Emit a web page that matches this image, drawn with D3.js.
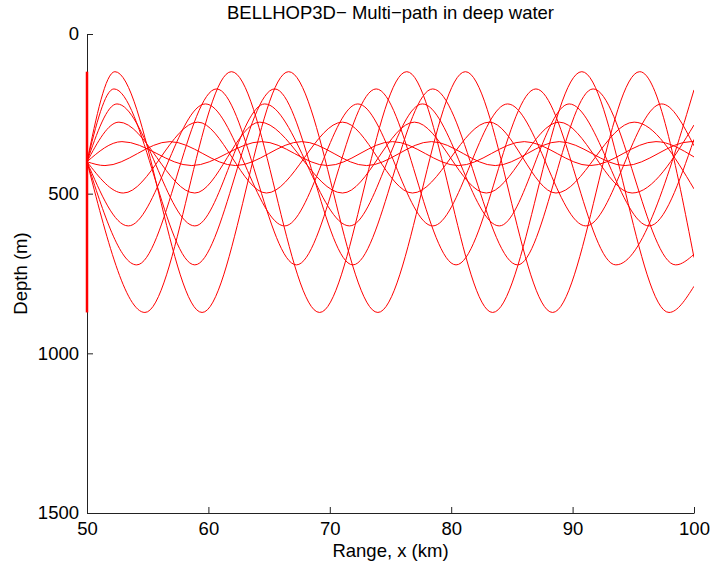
<!DOCTYPE html>
<html>
<head>
<meta charset="utf-8">
<script src="https://cdn.jsdelivr.net/npm/d3@7"></script>
<style>
  body { margin: 0; background: #fff; }
  svg { display: block; font-family: "Liberation Sans", Arial, sans-serif; }
  .axis path, .axis line { stroke: #222; }
  .axis text { font-size: 18.5px; fill: #000; }
</style>
</head>
<body>
<div id="chart"></div>
<script>
// ray paths: [range km, depth m], turning points
const rayUp1 = [[50, 400], [52.30, 118], [59.48, 872], [66.61, 118], [73.96, 872], [81.17, 118], [88.35, 872], [95.53, 118], [100, 700]];
const rayDown1 = [[50, 400], [54.77, 872], [61.90, 118], [69.16, 872], [76.34, 118], [83.41, 872], [90.76, 118], [97.94, 872], [100, 790]];
const rayUp2 = [[50, 400], [52.22, 172], [58.88, 723], [65.46, 172], [71.90, 723], [78.48, 172], [85.47, 723], [91.69, 172], [98.49, 723], [100, 690]];
const rayDown2 = [[50, 400], [54.09, 723], [60.67, 172], [67.25, 723], [73.82, 172], [80.40, 723], [86.98, 172], [93.56, 723], [100, 175]];
const rayUp3 = [[50, 400], [52.47, 219], [58.88, 601], [64.64, 219], [71.63, 601], [77.63, 219], [83.96, 601], [89.72, 219], [96.30, 601], [100, 330]];
const rayDown3 = [[50, 400], [53.40, 601], [59.76, 219], [66.28, 601], [72.31, 219], [78.48, 601], [84.65, 219], [91.09, 601], [97.34, 219], [100, 350]];
const rayUp4 = [[50, 400], [52.63, 276], [58.88, 498], [64.23, 276], [71.05, 498], [76.97, 276], [82.89, 498], [88.90, 276], [94.90, 498], [100, 285]];
const rayDown4 = [[50, 400], [52.99, 498], [59.13, 276], [64.78, 498], [71.05, 276], [76.81, 498], [83.14, 276], [88.63, 498], [95.07, 276], [100, 485]];
const rayUp5 = [[50, 400], [52.88, 337], [58.63, 412], [64.39, 337], [69.82, 412], [75.16, 337], [80.59, 412], [86.02, 337], [91.45, 412], [96.87, 337], [100, 385]];
const rayDown5 = [[50, 400], [51.48, 412], [56.83, 337], [62.25, 412], [67.68, 337], [73.03, 412], [78.37, 337], [83.63, 412], [88.90, 337], [94.33, 412], [99.75, 337], [100, 337]];
const sourceLine = [[50, 118], [50, 872]];

const rays = [rayUp1, rayDown1, rayUp2, rayDown2, rayUp3, rayDown3, rayUp4, rayDown4, rayUp5, rayDown5];

const xTicks = [50, 60, 70, 80, 90, 100];
const yTicks = [0, 500, 1000, 1500];

const width = 711, height = 569;
const margin = { top: 34, right: 17, bottom: 56, left: 87 };

const svg = d3.select('#chart').append('svg')
  .attr('width', width)
  .attr('height', height);

const x = d3.scaleLinear().domain([50, 100]).range([margin.left, width - margin.right]);
const y = d3.scaleLinear().domain([0, 1500]).range([margin.top, height - margin.bottom]);

svg.append('clipPath').attr('id', 'plot-clip')
  .append('rect')
  .attr('x', margin.left).attr('y', margin.top)
  .attr('width', width - margin.left - margin.right)
  .attr('height', height - margin.top - margin.bottom);

const line = d3.line()
  .x(d => x(d[0]))
  .y(d => y(d[1]))
  .curve(d3.curveMonotoneX);

// axes (ticks point inward like the matlab figure)
svg.append('g')
  .attr('class', 'axis')
  .attr('transform', `translate(0,${height - margin.bottom})`)
  .call(d3.axisBottom(x).tickValues(xTicks).tickFormat(d3.format('d'))
    .tickSize(-6).tickPadding(9).tickSizeOuter(0));

svg.append('g')
  .attr('class', 'axis')
  .attr('transform', `translate(${margin.left},0)`)
  .call(d3.axisLeft(y).tickValues(yTicks).tickFormat(d3.format('d'))
    .tickSize(-6).tickPadding(8).tickSizeOuter(0));

const g = svg.append('g').attr('clip-path', 'url(#plot-clip)');

g.selectAll('.ray')
  .data(rays)
  .join('path')
  .attr('class', 'ray')
  .attr('d', line)
  .attr('fill', 'none')
  .attr('stroke', '#ff0000')
  .attr('stroke-width', 1);

svg.append('path')
  .attr('d', d3.line().x(d => x(d[0])).y(d => y(d[1]))(sourceLine))
  .attr('stroke', '#ff0000')
  .attr('stroke-width', 2.5);

svg.append('text')
  .attr('x', (margin.left + width - margin.right) / 2)
  .attr('y', 19)
  .attr('text-anchor', 'middle')
  .style('font-size', '18.5px')
  .text('BELLHOP3D\u2212 Multi\u2212path in deep water');

svg.append('text')
  .attr('x', (margin.left + width - margin.right) / 2)
  .attr('y', 557)
  .attr('text-anchor', 'middle')
  .style('font-size', '18.5px')
  .text('Range, x (km)');

svg.append('text')
  .attr('transform', `translate(27,${(margin.top + height - margin.bottom) / 2}) rotate(-90)`)
  .attr('text-anchor', 'middle')
  .style('font-size', '18.5px')
  .text('Depth (m)');
</script>
</body>
</html>
